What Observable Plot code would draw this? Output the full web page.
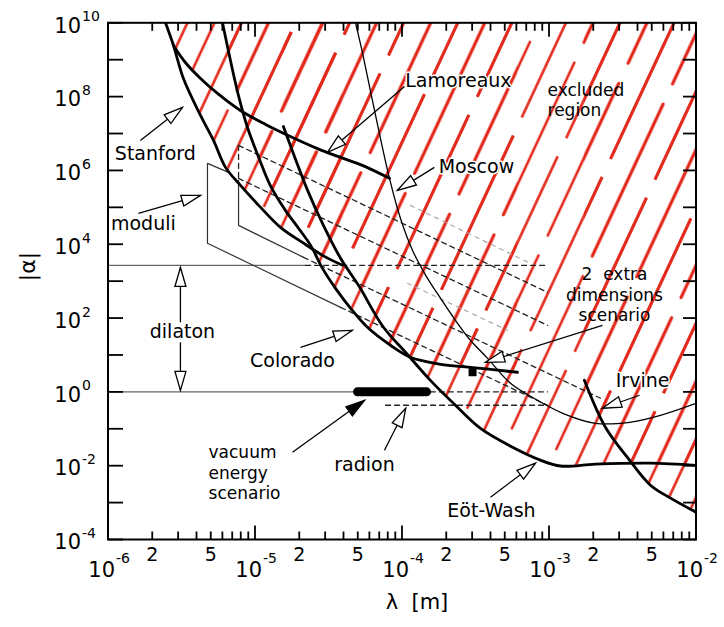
<!DOCTYPE html>
<html><head><meta charset="utf-8">
<script src="https://cdn.jsdelivr.net/npm/d3@7"></script>
<script src="https://cdn.jsdelivr.net/npm/@observablehq/plot@0.6"></script>
<style>body{margin:0;background:#fff}svg{display:block}</style>
</head><body><div id="chart"></div>
<script>
// ---- data (λ in m, |α|) ----
const stanford = [[2.46e-6,1e10],[2.79e-6,2.43e9],[3.26e-6,3.1e8],[4.26e-6,3.09e7],[5.22e-6,6.5e6],[6.3e-6,1.21e6],[7.97e-6,3.93e5],[1.06e-5,1.13e5],[1.49e-5,2.86e4],[2.1e-5,1.12e4],[2.88e-5,5.0e3],[3.94e-5,2.68e3]];
const lamoreaux = [[2.79e-6,2.43e9],[3.36e-6,8.4e8],[4.26e-6,3.1e8],[5.56e-6,1.22e8],[7.96e-6,4.2e7],[1.18e-5,1.76e7],[1.74e-5,8.3e6],[2.66e-5,3.9e6],[3.82e-5,2.25e6],[5.38e-5,1.37e6],[8.22e-5,6.1e5]];
const colorado = [[6.01e-6,1e10],[6.81e-6,9.53e8],[7.72e-6,1.07e8],[8.89e-6,1.46e7],[1.06e-5,2.25e6],[1.27e-5,3.93e5],[1.61e-5,8.26e4],[1.98e-5,2.69e4],[2.39e-5,9.33e3],[2.88e-5,2.22e3],[3.53e-5,638],[4.47e-5,184],[5.82e-5,56.1],[8.35e-5,18.3],[1.14e-4,8.65],[1.83e-4,5.58],[2.92e-4,4.63],[6.1e-4,3.4]];
const eotWash = [[1.56e-5,1.55e7],[2.28e-5,2.88e5],[2.92e-5,3.24e4],[3.82e-5,4.17e3],[5.06e-5,769],[7.48e-5,56.2],[1.06e-4,11.7],[1.56e-4,2.05],[2.31e-4,0.434],[3.42e-4,0.102],[5.65e-4,0.0316],[8.75e-4,0.0141],[1.2e-3,9.8e-3],[2.07e-3,0.011],[4.9e-3,0.0117],[1e-2,0.0102]];
const irvine = [[1.74e-3,2.06],[2.42e-3,0.110],[3.53e-3,0.0141],[4.9e-3,2.96e-3],[6.71e-3,1.32e-3],[1e-2,5.5e-4]];
const moscow = [[4.83e-5,1e10],[5.38e-5,1.57e9],[6.61e-5,3.09e7],[8.22e-5,6.1e5],[9.77e-5,5.0e4],[1.18e-4,6.8e3],[1.45e-4,1.44e3],[1.83e-4,342],[2.31e-4,87],[2.92e-4,25],[3.82e-4,8.1],[5.47e-4,1.71],[7.48e-4,0.76],[1.24e-3,0.263],[2.07e-3,0.141],[3.53e-3,0.15],[5.73e-3,0.232],[1e-2,0.49]];

const moduliOuter = [[6.61e-6,8.84e5],[4.75e-6,1.55e6],[4.75e-6,1.06e4],[3.82e-5,195]];
const moduliInner = [[7.73e-6,5.37e5],[7.73e-6,3.24e4],[2.14e-5,4.41e3]];
const dilatonSolid = [[[1e-6,2.68e3],[2.21e-5,2.68e3]],[[1e-6,1],[4.67e-5,1]]];
const extraDimDashed = [
  [[7.73e-6,4.76e6],[7.73e-6,6.08e5]],
  [[7.73e-6,4.76e6],[9.77e-4,498]],
  [[7.73e-6,6.08e5],[9.77e-4,63.5]],
  [[2.14e-5,4.41e3],[2.24e-3,0.671]],
  [[3.82e-5,195],[9.77e-4,0.434]],
  [[2.21e-5,2.68e3],[9.77e-4,2.68e3]],
  [[1.56e-4,1],[9.77e-4,1]],
  [[7.73e-5,0.434],[9.77e-4,0.434]]
];
const faintDashed = [
  [[1.14e-4,1.13e5],[7.48e-4,3.03e3]],
  [[1.09e-4,873],[5.22e-4,46.6]]
];
const vacuumBar = [[4.98e-5,1],[1.47e-4,1]];
const extraDimPoint = [[3.02e-4,3.4]];

// single-line labels
const labelText = ["Lamoreaux","Moscow","Stanford","moduli","dilaton","Colorado","radion","Eöt-Wash","Irvine"];
const labelX = [2.42e-4,3.21e-4,2.1e-6,1.74e-6,3.21e-6,1.8e-5,5.56e-5,4.06e-4,4.33e-3];
const labelY = [2.74e8,1.21e6,2.72e6,3.45e4,41.1,6.74,0.0104,5.84e-4,1.94];
// multi-line labels
const blockText = ["excluded\nregion","vacuum\nenergy\nscenario","2  extra\ndimensions\nscenario"];
const blockX = [9.77e-4,4.83e-6,2.79e-3];
const blockY = [8.37e7,6.65e-3,440];
const blockAnchor = ["start","start","middle"];

// arrows: tail -> tip
const arrowTail = [[1.04e-4,1.88e8],[1.66e-4,1.21e6],[1.66e-6,6.5e6],[1.61e-6,6.86e4],[3.11e-6,76.7],[3.11e-6,22],[2.04e-5,16.1],[1.8e-5,0.0231],[7.6e-5,0.0262],[4.0e-4,1.4e-3],[4.13e-3,0.81],[2.31e-3,63.5]];
const arrowTip = [[3.11e-5,3.08e6],[9.31e-5,2.88e5],[3.21e-6,5.08e7],[4.26e-6,2.11e5],[3.11e-6,2.35e3],[3.11e-6,1.1],[4.6e-5,46.6],[5.56e-5,0.593],[1.06e-4,0.36],[8.09e-4,0.01167],[2.31e-3,0.36],[3.7e-4,6.33]];
const arrowFilled = [false,false,false,false,false,false,false,true,false,false,false,false];

// axes
const yDecades = d3.range(-4, 11).map(e => Math.pow(10, e));
const yLabelExp = [10, 8, 6, 4, 2, 0, -2, -4];
const xLabelExp = [-6, -5, -4, -3, -2];
const xMinor = d3.range(-6, -2).flatMap(e => d3.range(2, 10).map(m => m * Math.pow(10, e)));
const xSmall = [2e-6, 5e-6, 2e-5, 5e-5, 2e-4, 5e-4, 2e-3, 5e-3];
const xSmallText = ["2","5","2","5","2","5","2","5"];

// ---- layout ----
const W = 724, H = 627, MT = 22.3, MB = 88, ML = 107.5, MR = 28.5;
const FONT = "DejaVu Sans";
const xDomain = [1e-6, 1e-2], yDomain = [1e-4, 1e10];
const sx = Plot.scale({x: {type: "log", domain: xDomain, range: [ML, W - MR]}});
const sy = Plot.scale({y: {type: "log", domain: yDomain, range: [H - MB, MT]}});

const arrows = arrowTail.map((t, i) => {
  const p = arrowTip[i];
  const dx = sx.apply(p[0]) - sx.apply(t[0]);
  const dy = sy.apply(p[1]) - sy.apply(t[1]);
  return {x1: t[0], y1: t[1], x2: p[0], y2: p[1], filled: arrowFilled[i], angle: Math.atan2(dx, -dy) * 180 / Math.PI};
});
const labels = labelText.map((t, i) => ({t, x: labelX[i], y: labelY[i]}));
const blocks = blockText.map((t, i) => ({t, x: blockX[i], y: blockY[i], a: blockAnchor[i]}));

const tickLine = {draw(ctx, l) { ctx.moveTo(0, 0); ctx.lineTo(0, -l); }};
const headShape = {draw(ctx, l) { ctx.moveTo(0, -l); ctx.lineTo(-5.5, 0); ctx.lineTo(5.5, 0); ctx.closePath(); }};
const curveOpts = {x: d => d[0], y: d => d[1], curve: "catmull-rom", clip: true};
const hatchArea = c => Plot.areaY(c, {x: d => d[0], y1: d => d[1], y2: () => 1e10, fill: "url(#hatch)", curve: "catmull-rom", clip: true});
const vtick = (data, anchor, rot, len) => Plot.vector(data, {
  [anchor === "left" || anchor === "right" ? "y" : "x"]: d => d,
  frameAnchor: anchor, rotate: rot, length: len, anchor: "start", shape: tickLine,
  stroke: "black", strokeWidth: 1.8, strokeLinecap: "butt"
});
const blockMark = anchor => Plot.text(blocks.filter(b => b.a === anchor), {x: "x", y: "y", text: "t", textAnchor: anchor, fontSize: 17, lineHeight: 1.2, fill: "black"});

const chart = Plot.plot({
  width: W, height: H,
  marginTop: MT, marginBottom: MB, marginLeft: ML, marginRight: MR,
  style: {fontFamily: FONT, background: "white", color: "black"},
  x: {type: "log", domain: xDomain, axis: null},
  y: {type: "log", domain: yDomain, axis: null},
  marks: [
    // hatched excluded region
    hatchArea(stanford), hatchArea(colorado), hatchArea(eotWash), hatchArea(irvine),
    // dilaton horizontal lines
    ...dilatonSolid.map(s => Plot.line(s, {x: d => d[0], y: d => d[1], stroke: "#666", strokeWidth: 1.4})),
    // moduli
    Plot.line(moduliOuter, {x: d => d[0], y: d => d[1], stroke: "#333", strokeWidth: 1.2}),
    Plot.line(moduliInner, {x: d => d[0], y: d => d[1], stroke: "#333", strokeWidth: 1.2}),
    // 2 extra dimensions scenario
    ...faintDashed.map(s => Plot.line(s, {x: d => d[0], y: d => d[1], stroke: "#aaa", strokeWidth: 1.2, strokeDasharray: "4,5"})),
    ...extraDimDashed.map(s => Plot.line(s, {x: d => d[0], y: d => d[1], stroke: "#222", strokeWidth: 1.3, strokeDasharray: "5,4"})),
    // experimental curves
    Plot.line(moscow, {...curveOpts, stroke: "black", strokeWidth: 1.3}),
    Plot.line(stanford, {...curveOpts, stroke: "black", strokeWidth: 2.8}),
    Plot.line(lamoreaux, {...curveOpts, stroke: "black", strokeWidth: 2.8}),
    Plot.line(colorado, {...curveOpts, stroke: "black", strokeWidth: 2.8}),
    Plot.line(eotWash, {...curveOpts, stroke: "black", strokeWidth: 2.8}),
    Plot.line(irvine, {...curveOpts, stroke: "black", strokeWidth: 2.8}),
    // vacuum energy bar and extra-dim point
    Plot.line(vacuumBar, {x: d => d[0], y: d => d[1], stroke: "black", strokeWidth: 9, strokeLinecap: "round"}),
    Plot.dot(extraDimPoint, {x: d => d[0], y: d => d[1], symbol: "square", r: 4.5, fill: "black"}),
    // labels
    Plot.text(labels, {x: "x", y: "y", text: "t", fontSize: 19, fill: "black", stroke: "white", strokeWidth: 3}),
    blockMark("start"),
    blockMark("middle"),
    // arrows
    Plot.link(arrows, {x1: "x1", y1: "y1", x2: "x2", y2: "y2", stroke: "black", strokeWidth: 1.3}),
    Plot.vector(arrows, {x: "x2", y: "y2", rotate: "angle", length: 19, anchor: "end", shape: headShape,
      fill: d => d.filled ? "black" : "white", stroke: "black", strokeWidth: 1.3, strokeLinejoin: "miter"}),
    // frame and ticks
    Plot.frame({stroke: "black", strokeWidth: 2}),
    vtick(yDecades, "left", 90, 15),
    vtick(yDecades, "right", -90, 13),
    vtick(xLabelExp.map(e => Math.pow(10, e)), "bottom", 0, 14),
    vtick(xMinor, "bottom", 0, 8),
    vtick(xLabelExp.map(e => Math.pow(10, e)), "top", 180, 14),
    vtick(xMinor, "top", 180, 8),
    // tick labels
    Plot.text(yLabelExp, {y: d => Math.pow(10, d), text: () => "10", frameAnchor: "left", dx: -27, dy: 3, textAnchor: "end", fontSize: 21}),
    Plot.text(yLabelExp, {y: d => Math.pow(10, d), text: d => String(d), frameAnchor: "left", dx: -26, dy: -6, textAnchor: "start", fontSize: 14}),
    Plot.text(xLabelExp, {x: d => Math.pow(10, d), text: () => "10", frameAnchor: "bottom", dx: 7, dy: 37, textAnchor: "end", fontSize: 21}),
    Plot.text(xLabelExp, {x: d => Math.pow(10, d), text: d => String(d), frameAnchor: "bottom", dx: 8, dy: 23, textAnchor: "start", fontSize: 14}),
    Plot.text(xSmall, {x: d => d, text: (d, i) => xSmallText[i], frameAnchor: "bottom", dy: 21, fontSize: 19}),
    // axis titles
    Plot.text(["λ  [m]"], {text: d => d, frameAnchor: "bottom", dx: 15, dy: 69, fontSize: 21}),
    Plot.text(["|α|"], {text: d => d, frameAnchor: "left", dx: -80, rotate: -90, fontSize: 22})
  ]
});

const ns = "http://www.w3.org/2000/svg";
const defs = document.createElementNS(ns, "defs");
defs.innerHTML = `<pattern id="hatch" patternUnits="userSpaceOnUse" width="49" height="190" patternTransform="rotate(25)">
<line x1="8" y1="4" x2="8" y2="172" stroke="#e2281b" stroke-width="2.6" stroke-linecap="round"/>
<line x1="32.5" y1="96" x2="32.5" y2="190" stroke="#e2281b" stroke-width="2.6"/>
<line x1="32.5" y1="0" x2="32.5" y2="76" stroke="#e2281b" stroke-width="2.6"/>
</pattern>`;
chart.insertBefore(defs, chart.firstChild);
document.getElementById("chart").appendChild(chart);
</script>
</body></html>
